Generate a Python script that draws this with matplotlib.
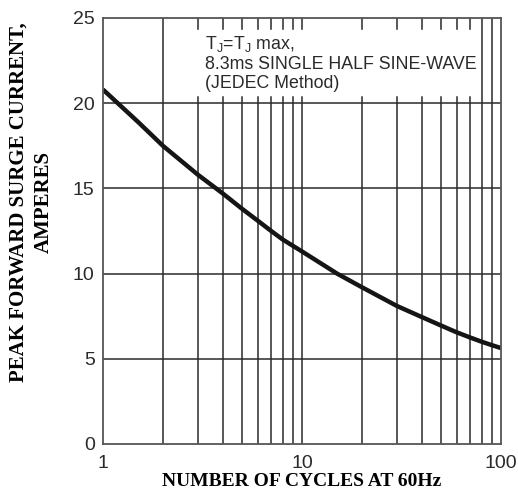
import matplotlib
matplotlib.use("Agg")
import matplotlib.pyplot as plt
from matplotlib.ticker import FixedLocator, FixedFormatter, NullLocator

cycles = [1, 1.5, 2, 3, 4, 5, 6, 7, 8, 10, 15, 20, 30, 40, 50, 60, 70, 80, 90, 100]
current = [20.8, 18.9, 17.5, 15.8, 14.7, 13.8, 13.1, 12.5, 12.0, 11.3, 10.0, 9.2, 8.1,
           7.45, 6.95, 6.55, 6.25, 6.0, 5.8, 5.63]
y_ticks = [0, 5, 10, 15, 20, 25]
x_ticks = [1, 10, 100]
x_tick_labels = ["1", "10", "100"]
x_grid = [2, 3, 4, 5, 6, 7, 8, 9, 10, 20, 30, 40, 50, 60, 70, 80, 90]
y_grid = [5, 10, 15, 20]
note_lines = ["T$_\\mathregular{J}$=T$_\\mathregular{J}$ max,",
              "8.3ms SINGLE HALF SINE-WAVE",
              "(JEDEC Method)"]

plt.rcParams['font.family'] = ['Liberation Sans', 'DejaVu Sans']
plt.rcParams['mathtext.fontset'] = 'custom'
plt.rcParams['mathtext.rm'] = 'Liberation Sans'

fig = plt.figure(figsize=(5.18, 4.93), dpi=100)
ax = fig.add_axes([103/518, 1-444/493, 398/518, 426/493])
ax.set_xscale('log')
ax.set_xlim(1, 100)
ax.set_ylim(0, 25)

grid_color = '#2a2a2a'
ax.xaxis.set_major_locator(FixedLocator(x_ticks))
ax.xaxis.set_major_formatter(FixedFormatter(x_tick_labels))
ax.xaxis.set_minor_locator(NullLocator())
ax.set_yticks(y_ticks)

# note area (grid lines are interrupted there)
box_x0, box_x1 = 2.58, 77.5
box_y0, box_y1 = 20.35, 24.35
for xv in x_grid:
    if box_x0 < xv < box_x1:
        ax.plot([xv, xv], [0, box_y0], color=grid_color, lw=1.1, zorder=1)
        ax.plot([xv, xv], [box_y1, 25], color=grid_color, lw=1.1, zorder=1)
    else:
        ax.plot([xv, xv], [0, 25], color=grid_color, lw=1.1, zorder=1)
for yv in y_grid:
    ax.plot([1, 100], [yv, yv], color=grid_color, lw=1.1, zorder=1)
for s in ax.spines.values():
    s.set_color('#555555')
    s.set_linewidth(1.3)
    s.set_zorder(5)
ax.tick_params(which='both', length=0)
ax.tick_params(axis='y', pad=6, labelsize=14, labelcolor='#2a2a2a')
ax.tick_params(axis='x', pad=8, labelsize=14, labelcolor='#2a2a2a')

ax.text(0.257, 0.894, "\n".join(note_lines), transform=ax.transAxes, fontsize=12.8,
        color='#2a2a2a', ha='left', va='center', linespacing=1.15, zorder=3)

ax.plot(cycles, current, color='#151515', lw=3.2, zorder=4, solid_capstyle='butt')

ax.set_xlabel("NUMBER OF CYCLES AT 60Hz", family='Liberation Serif', weight='bold',
              fontsize=14, labelpad=1)
fig.text(31/518, 1-202/493, "PEAK FORWARD SURGE CURRENT,\nAMPERES", rotation=90,
         family='Liberation Serif', weight='bold', fontsize=15, ha='center', va='center',
         multialignment='center', linespacing=1.35)

fig.savefig("out.png", dpi=100)
